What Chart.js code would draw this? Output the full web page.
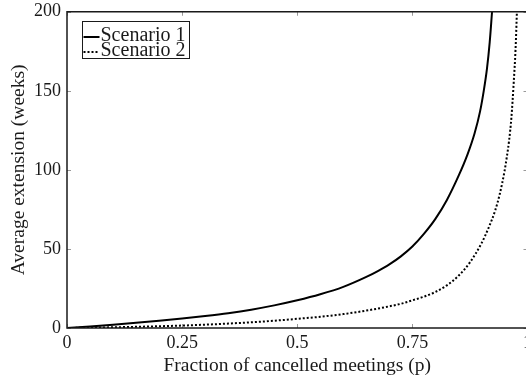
<!DOCTYPE html>
<html>
<head>
<meta charset="utf-8">
<script src="https://cdn.jsdelivr.net/npm/chart.js@4.4.1/dist/chart.umd.min.js"></script>
<style>
  html, body { margin: 0; padding: 0; background: #fff; overflow: hidden; }
  #wrap { width: 536px; height: 380px; }
</style>
</head>
<body>
<div id="wrap"><canvas id="chart"></canvas></div>
<script>
// values
const pS1 = [0, 0.05, 0.1, 0.15, 0.2, 0.25, 0.3, 0.35, 0.4, 0.45, 0.5, 0.55, 0.6, 0.65, 0.675, 0.7, 0.725, 0.75, 0.775, 0.8, 0.825, 0.85, 0.87, 0.885, 0.897, 0.905, 0.912, 0.918, 0.923];
const scenario1 = [0, 1.0, 2.1, 3.3, 4.6, 6.0, 7.6, 9.4, 11.6, 14.3, 17.5, 21.3, 26, 32.3, 36, 40.2, 45.3, 51.5, 59.5, 69, 81, 96, 110, 123, 137, 150, 164, 181, 200];

const pS2 = [0, 0.05, 0.1, 0.15, 0.2, 0.25, 0.3, 0.35, 0.4, 0.45, 0.5, 0.55, 0.6, 0.65, 0.7, 0.725, 0.75, 0.775, 0.8, 0.825, 0.85, 0.875, 0.9, 0.915, 0.93, 0.94, 0.95, 0.955, 0.96, 0.965, 0.97, 0.974, 0.977];
const scenario2 = [0, 0.2, 0.45, 0.75, 1.1, 1.55, 2.1, 2.8, 3.6, 4.6, 5.8, 7.1, 8.8, 11, 13.7, 15.3, 17.5, 19.8, 22.8, 27, 33, 41.5, 53.5, 63, 74.5, 85, 99, 108, 118.5, 133, 155, 176, 200];

const seriesNames = ['Scenario 1', 'Scenario 2'];
const xTicks = [0, 0.25, 0.5, 0.75, 1];
const yTicks = [0, 50, 100, 150, 200];

const FONT = '"Liberation Serif", "Times New Roman", serif';
const INK = '#1a1a1a';

const toPoints = (xs, ys) => xs.map((x, i) => ({ x: x, y: ys[i] }));

// frame, inward ticks and boxed legend
const framePlugin = {
    id: 'frame',
    afterDraw(chart) {
        const { ctx, chartArea: a, scales } = chart;
        ctx.save();
        ctx.strokeStyle = '#999';
        ctx.lineWidth = 1;
        ctx.beginPath();
        xTicks.forEach(v => {
            const px = Math.round(scales.x.getPixelForValue(v)) + 0.5;
            ctx.moveTo(px, a.bottom); ctx.lineTo(px, a.bottom - 4);
            ctx.moveTo(px, a.top); ctx.lineTo(px, a.top + 4);
        });
        yTicks.forEach(v => {
            const py = Math.round(scales.y.getPixelForValue(v)) + 0.5;
            ctx.moveTo(a.left, py); ctx.lineTo(a.left + 4, py);
            ctx.moveTo(a.right, py); ctx.lineTo(a.right - 4, py);
        });
        ctx.stroke();

        ctx.strokeStyle = INK;
        ctx.lineWidth = 1.5;
        ctx.strokeRect(a.left, a.top, a.right - a.left, a.bottom - a.top);

        // legend box
        const bx = 82.5, by = 21.5, bw = 107, bh = 37;
        ctx.fillStyle = '#fff';
        ctx.fillRect(bx, by, bw, bh);
        ctx.lineWidth = 1;
        ctx.strokeStyle = INK;
        ctx.strokeRect(bx, by, bw, bh);
        ctx.font = '20px ' + FONT;
        ctx.textBaseline = 'alphabetic';
        chart.data.datasets.forEach((ds, i) => {
            const y = by + 15.5 + i * 15;
            ctx.beginPath();
            ctx.strokeStyle = ds.borderColor;
            ctx.lineWidth = ds.borderWidth;
            ctx.setLineDash(ds.borderDash || []);
            ctx.moveTo(bx + 1, y); ctx.lineTo(bx + 17, y);
            ctx.stroke();
            ctx.setLineDash([]);
            ctx.fillStyle = INK;
            ctx.fillText(ds.label, bx + 18, y + 3.5);
        });
        ctx.restore();
    }
};

new Chart(document.getElementById('chart'), {
    type: 'line',
    data: {
        datasets: [
            {
                label: seriesNames[0],
                data: toPoints(pS1, scenario1),
                borderColor: '#000',
                borderWidth: 2,
                pointRadius: 0,
                cubicInterpolationMode: 'monotone'
            },
            {
                label: seriesNames[1],
                data: toPoints(pS2, scenario2),
                borderColor: '#000',
                borderWidth: 2,
                borderDash: [2, 2],
                pointRadius: 0,
                cubicInterpolationMode: 'monotone'
            }
        ]
    },
    options: {
        responsive: true,
        maintainAspectRatio: false,
        animation: false,
        layout: { padding: { top: 8, right: 0, left: 0, bottom: 0 } },
        plugins: {
            legend: { display: false },
            tooltip: { enabled: false }
        },
        scales: {
            x: {
                type: 'linear',
                min: 0,
                max: 1,
                afterBuildTicks: s => { s.ticks = xTicks.map(v => ({ value: v })); },
                ticks: {
                    color: INK, padding: 4, maxRotation: 0,
                    font: { family: FONT, size: 18 },
                    callback: v => String(v)
                },
                grid: { display: false, drawTicks: false },
                border: { display: false },
                title: {
                    display: true,
                    text: 'Fraction of cancelled meetings (p)',
                    color: INK,
                    font: { family: FONT, size: 19.5 },
                    padding: { top: 4, bottom: 2 }
                },
                afterFit: s => { s.height = 52; }
            },
            y: {
                min: 0,
                max: 200,
                afterBuildTicks: s => { s.ticks = yTicks.map(v => ({ value: v })); },
                ticks: {
                    color: INK, padding: 6,
                    font: { family: FONT, size: 18, lineHeight: 0.64 },
                    callback: v => String(v)
                },
                grid: { display: false, drawTicks: false },
                border: { display: false },
                title: {
                    display: true,
                    text: 'Average extension (weeks)',
                    color: INK,
                    font: { family: FONT, size: 19.5 },
                    padding: { top: 7, bottom: 2 }
                },
                afterFit: s => { s.width = 67; }
            }
        }
    },
    plugins: [framePlugin]
});
</script>
</body>
</html>
